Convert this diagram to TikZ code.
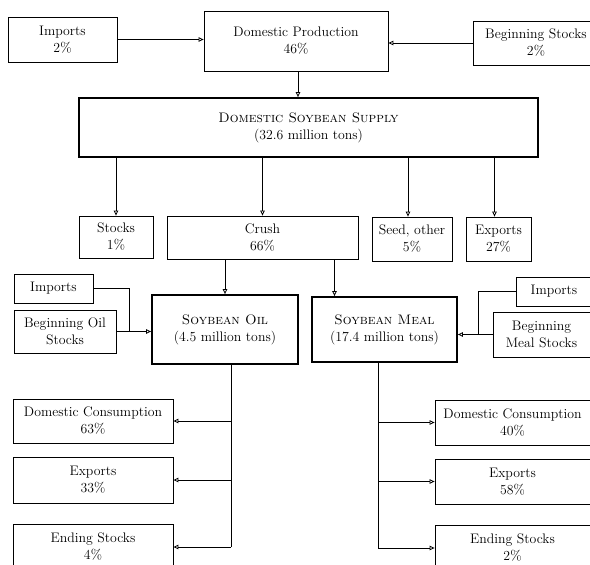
\documentclass[tikz,border=0pt]{standalone}
\usetikzlibrary{arrows.meta}
\tikzset{
  box/.style={draw,line width=0.8pt,align=center,inner sep=0pt,font=\fontsize{13.8}{17}\selectfont},
  bigbox/.style={box,line width=1.8pt},
  flow/.style={line width=0.8pt,-{Triangle[open,length=5pt,width=4.5pt]}},
  link/.style={line width=0.8pt}
}
\begin{document}
\begin{tikzpicture}[x=1pt,y=-1pt]
\useasboundingbox (0,0) rectangle (590,565);
\clip (0,0) rectangle (590,565);

\node[box,minimum width=109,minimum height=45] (impA) at (62.5,39.5) {Imports\\2\%};
\node[box,minimum width=184,minimum height=60] (prod) at (296,41) {Domestic Production\\46\%};
\node[box,minimum width=126,minimum height=44] (begA) at (536,43) {Beginning Stocks\\2\%};
\node[bigbox,minimum width=459,minimum height=59] (supply) at (308.5,127.5) {\textsc{Domestic Soybean Supply}\\(32.6 million tons)};

\node[box,minimum width=74,minimum height=42] (stocks) at (116,237) {Stocks\\1\%};
\node[box,minimum width=191,minimum height=43] (crush) at (262.5,237.5) {Crush\\66\%};
\node[box,minimum width=80,minimum height=44] (seed) at (412,239) {Seed, other\\5\%};
\node[box,minimum width=65,minimum height=44] (expA) at (498.5,239) {Exports\\27\%};

\node[box,minimum width=79,minimum height=29] (impOil) at (53.5,288.5) {Imports};
\node[box,minimum width=102,minimum height=43] (begOil) at (65,331.5) {Beginning Oil\\Stocks};
\node[bigbox,minimum width=146,minimum height=69] (oil) at (225,329.5) {\textsc{Soybean Oil}\\(4.5 million tons)};
\node[bigbox,minimum width=145,minimum height=65] (meal) at (384.5,329.5) {\textsc{Soybean Meal}\\(17.4 million tons)};
\node[box,minimum width=76,minimum height=29] (impMeal) at (554,291.5) {Imports};
\node[box,minimum width=97,minimum height=45] (begMeal) at (541.5,334.5) {Beginning\\Meal Stocks};

\node[box,minimum width=160,minimum height=44] (dcOil) at (93,421) {Domestic Consumption\\63\%};
\node[box,minimum width=160,minimum height=46] (exOil) at (93,480) {Exports\\33\%};
\node[box,minimum width=160,minimum height=46] (esOil) at (93,547) {Ending Stocks\\4\%};
\node[box,minimum width=155,minimum height=45] (dcMeal) at (512.5,422.5) {Domestic Consumption\\40\%};
\node[box,minimum width=155,minimum height=45] (exMeal) at (512.5,481.5) {Exports\\58\%};
\node[box,minimum width=155,minimum height=46] (esMeal) at (512.5,548) {Ending Stocks\\2\%};

\draw[flow] (impA.east) -- (impA.east -| prod.west);
\draw[flow] (begA.west) -- (begA.west -| prod.east);
\draw[flow] ([xshift=2]prod.south) -- ([xshift=2]prod.south |- supply.north);

\draw[flow] (supply.south -| stocks.north) -- (stocks.north);
\draw[flow] (supply.south -| crush.north) -- (crush.north);
\draw[flow] ([xshift=-4]supply.south -| seed.north) -- ([xshift=-4]seed.north);
\draw[flow] ([xshift=-4]supply.south -| expA.north) -- ([xshift=-4]expA.north);

\draw[flow] (crush.south -| oil.north) -- (oil.north);
\draw[flow] ([xshift=-50]crush.south -| meal.north) -- ([xshift=-50]meal.north);

\coordinate (jOil) at ([xshift=13]begOil.east);
\draw[link] (impOil.east) -| (jOil);
\draw[flow] (begOil.east) -- (begOil.east -| oil.west);
\coordinate (jMeal) at ([xshift=-14]begMeal.west);
\draw[link] (impMeal.west) -| (jMeal);
\draw[flow] (begMeal.west) -- (begMeal.west -| meal.east);

\coordinate (tOil) at ([xshift=6]oil.south);
\draw[link] (tOil) -- (tOil |- esOil.east);
\draw[flow] (tOil |- dcOil.east) -- (dcOil.east);
\draw[flow] (tOil |- exOil.east) -- (exOil.east);
\draw[flow] (tOil |- esOil.east) -- (esOil.east);

\coordinate (tMeal) at ([xshift=-6.5]meal.south);
\draw[link] (tMeal) -- (tMeal |- esMeal.west);
\draw[flow] (tMeal |- dcMeal.west) -- (dcMeal.west);
\draw[flow] (tMeal |- exMeal.west) -- (exMeal.west);
\draw[flow] (tMeal |- esMeal.west) -- (esMeal.west);
\end{tikzpicture}
\end{document}
